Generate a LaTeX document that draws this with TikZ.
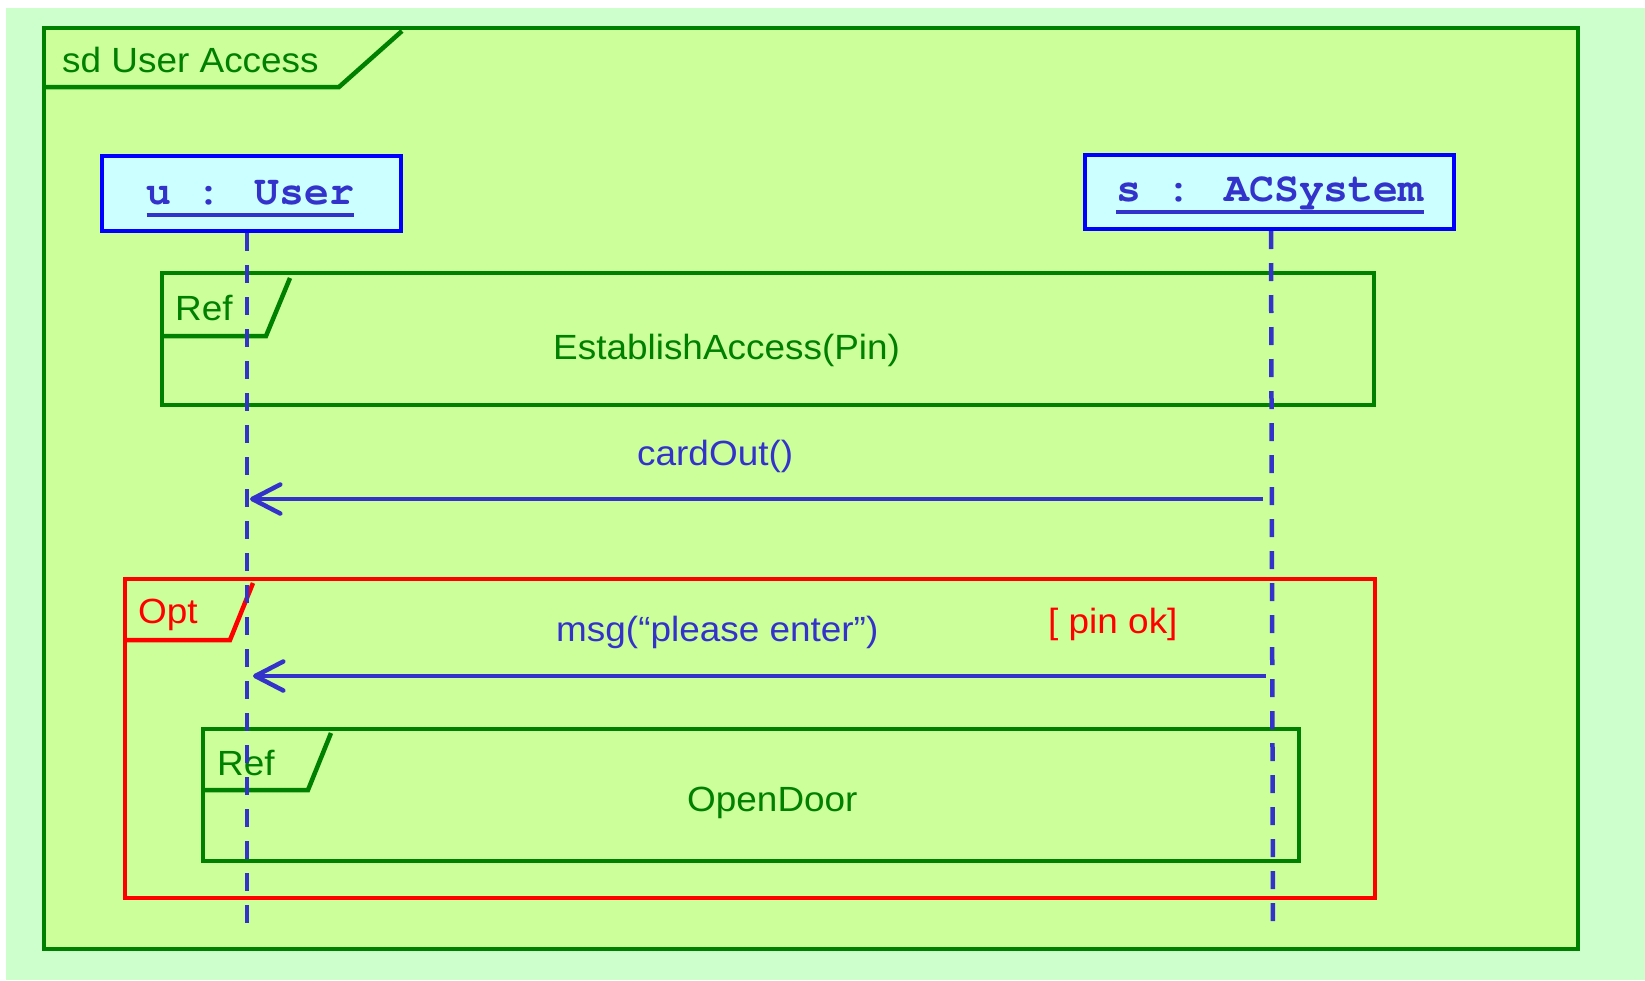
\documentclass[tikz,border=0pt]{standalone}
\usepackage{fontspec}
\setmainfont{Liberation Sans}[FakeStretch=1.055]
\newfontfamily\codefont{texgyrecursor}[Extension=.otf, UprightFont=*-regular, BoldFont=*-bold]
\usetikzlibrary{arrows.meta}
\definecolor{bgc}{HTML}{CCFFCC}
\definecolor{framefill}{HTML}{CCFF99}
\definecolor{umlgreen}{HTML}{008000}
\definecolor{msgblue}{HTML}{3333CC}
\definecolor{boxblue}{HTML}{0000FF}
\definecolor{boxfill}{HTML}{CCFFFF}
\definecolor{optred}{HTML}{FF0000}
\tikzset{
  lbl/.style={inner sep=0pt, anchor=base west, font=\fontsize{35}{40}\selectfont},
  greenline/.style={draw=umlgreen, line width=4.5pt},
  redline/.style={draw=optred, line width=4.5pt},
  objbox/.style={draw=boxblue, fill=boxfill, line width=4.5pt},
  objtext/.style={inner sep=0pt, anchor=base, text=msgblue, font=\codefont\bfseries\fontsize{41.5}{46}\selectfont},
  lifeline/.style={draw=msgblue, line width=4.5pt, dash pattern=on 18pt off 14pt},
  msgarrow/.style={draw=msgblue, line width=4.5pt, -{Straight Barb[length=28pt,width=29pt,line cap=round,line join=round]}},
}
\begin{document}
\begin{tikzpicture}[x=1pt,y=-1pt]
\useasboundingbox (0,0) rectangle (1645,980);
\fill[white] (0,0) rectangle (1645,980);
\fill[bgc] (6,8) rectangle (1645,980);
% main frame
\draw[greenline, fill=framefill] (44,28) rectangle (1578,949);
\draw[greenline] (44,87) -- (339,87) -- (402,31);
\node[lbl, text=umlgreen] (title) at (62,72) {sd User Access};
% Ref 1
\draw[greenline] (162,273) rectangle (1374,405);
\draw[greenline] (162,336) -- (266,336) -- (290,278);
\node[lbl, text=umlgreen] (ref1) at (175,320) {Ref};
\node[lbl, text=umlgreen] (est) at (553,359) {EstablishAccess(Pin)};
% Opt
\draw[redline] (125,579) rectangle (1375,898);
\draw[redline] (125,640) -- (230,640) -- (253,583);
\node[lbl, text=optred] (opt) at (138,623) {Opt};
\node[lbl, text=optred] (guard) at (1048,633) {[ pin ok]};
% Ref 2
\draw[greenline] (203,729) rectangle (1299,861);
\draw[greenline] (203,790) -- (308,790) -- (331,733);
\node[lbl, text=umlgreen] (ref2) at (217,775) {Ref};
\node[lbl, text=umlgreen] (od) at (687,811) {OpenDoor};
% objects
\draw[objbox] (102,156) rectangle (401,231);
\node[objtext] (user) at (250.5,204) {u : User};
\draw[msgblue, line width=4pt] (user.base west |- 0,215) -- (user.base east |- 0,215);
\draw[objbox] (1085,155) rectangle (1454,229);
\node[objtext] (sys) at (1270,201) {s : ACSystem};
\draw[msgblue, line width=4pt] (sys.base west |- 0,212) -- (sys.base east |- 0,212);
% lifelines
\coordinate (utop) at (247,233);
\coordinate (ubot) at (247,932);
\coordinate (stop) at (1271,231);
\coordinate (sbot) at (1273,928);
\draw[lifeline] (utop) -- (ubot);
\draw[lifeline] (stop) -- (sbot);
% messages
\coordinate (s1) at (1263,499);
\coordinate (u1) at (250,499);
\draw[msgarrow] (s1) -- (u1);
\node[lbl, text=msgblue] (m1) at (637,465) {cardOut()};
\coordinate (s2) at (1266,676);
\coordinate (u2) at (253,676);
\draw[msgarrow] (s2) -- (u2);
\node[lbl, text=msgblue] (m2) at (556,641) {msg(“please enter”)};
\end{tikzpicture}
\end{document}
